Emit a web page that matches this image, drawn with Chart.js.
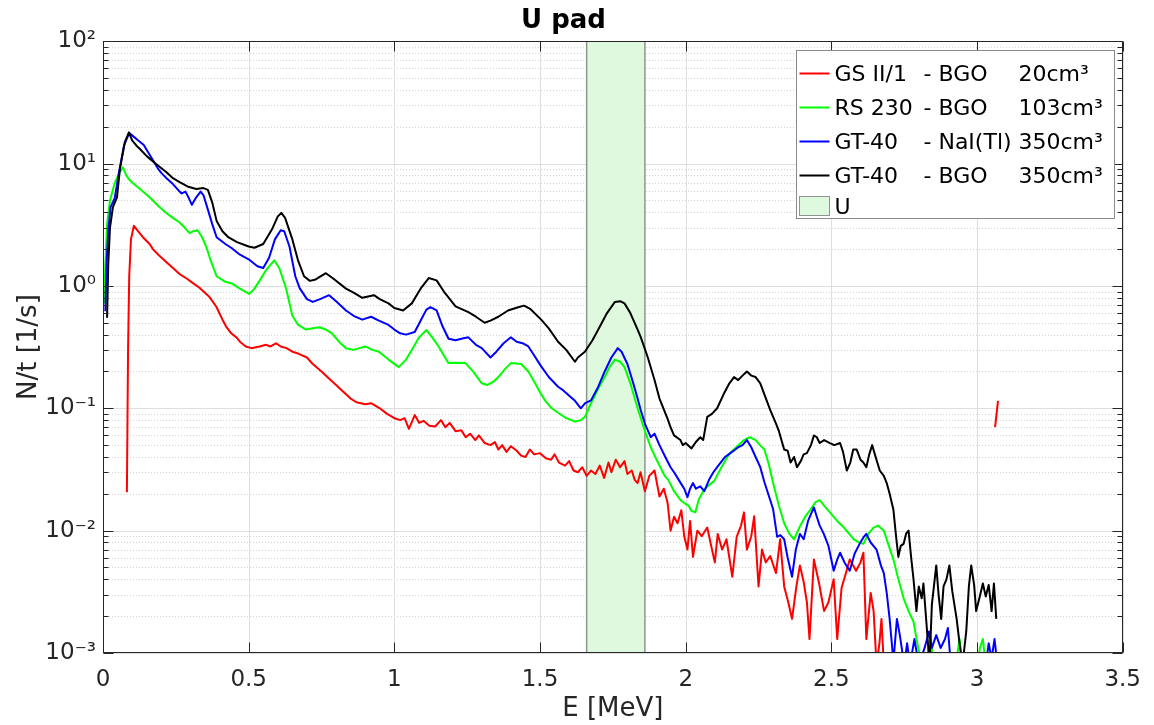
<!DOCTYPE html>
<html>
<head>
<meta charset="utf-8">
<title>U pad</title>
<script src="https://cdn.jsdelivr.net/npm/chart.js@4.4.1/dist/chart.umd.min.js"></script>
<style>
  html, body { margin: 0; padding: 0; background: #fff; }
  #wrap { width: 1154px; height: 725px; }
</style>
</head>
<body>
<div id="wrap"><canvas id="spectrum" width="1154" height="725"></canvas></div>
<script>
// axis ticks
const xTickVals = [0, 0.5, 1, 1.5, 2, 2.5, 3, 3.5];
const xTickLabels = ['0', '0.5', '1', '1.5', '2', '2.5', '3', '3.5'];
const yTickVals = [0.001, 0.01, 0.1, 1, 10, 100];
const yTickLabels = ['10⁻³', '10⁻²', '10⁻¹', '10⁰', '10¹', '10²'];

// U window (MeV)
const bandRange = [1.66, 1.86];

// legend text
const legendNames = ['GS II/1', 'RS 230', 'GT-40', 'GT-40', 'U'];
const legendCrystals = ['- BGO', '- BGO', '- NaI(Tl)', '- BGO', ''];
const legendVolumes = ['20cm³', '103cm³', '350cm³', '350cm³', ''];
const seriesColors = ['#ff0000', '#00ff00', '#0000ff', '#000000'];

// spectra: [E (MeV), N/t (1/s)]
const redPts = [[0.082,0.0206],[0.086,0.3],[0.09,1.2],[0.096,2.4],[0.106,3.1],[0.12,2.8],[0.137,2.5],[0.16,2.2],[0.171,2.0],[0.19,1.8],[0.218,1.56],[0.24,1.4],[0.263,1.25],[0.287,1.15],[0.31,1.05],[0.33,0.97],[0.35,0.88],[0.366,0.81],[0.39,0.67],[0.41,0.53],[0.424,0.46],[0.44,0.41],[0.458,0.38],[0.47,0.35],[0.49,0.32],[0.51,0.31],[0.537,0.32],[0.56,0.33],[0.575,0.32],[0.594,0.34],[0.61,0.32],[0.63,0.31],[0.65,0.29],[0.67,0.28],[0.7,0.26],[0.72,0.23],[0.75,0.2],[0.77,0.18],[0.8,0.155],[0.82,0.14],[0.85,0.12],[0.87,0.112],[0.9,0.108],[0.92,0.11],[0.95,0.1],[0.975,0.09],[1.0,0.083],[1.02,0.08],[1.035,0.083],[1.05,0.068],[1.07,0.088],[1.085,0.076],[1.1,0.079],[1.12,0.072],[1.14,0.071],[1.16,0.08],[1.175,0.07],[1.19,0.076],[1.21,0.065],[1.23,0.066],[1.245,0.058],[1.26,0.062],[1.278,0.055],[1.29,0.06],[1.31,0.052],[1.33,0.05],[1.345,0.053],[1.357,0.046],[1.37,0.05],[1.385,0.044],[1.4,0.049],[1.42,0.045],[1.435,0.041],[1.45,0.04],[1.465,0.046],[1.48,0.042],[1.5,0.043],[1.52,0.039],[1.538,0.038],[1.55,0.042],[1.565,0.036],[1.586,0.034],[1.6,0.037],[1.615,0.031],[1.63,0.03],[1.645,0.033],[1.66,0.028],[1.675,0.031],[1.69,0.029],[1.705,0.034],[1.72,0.027],[1.735,0.036],[1.745,0.03],[1.76,0.038],[1.775,0.033],[1.79,0.037],[1.8,0.029],[1.815,0.031],[1.825,0.026],[1.835,0.0245],[1.845,0.03],[1.86,0.021],[1.875,0.028],[1.893,0.031],[1.91,0.019],[1.925,0.022],[1.938,0.0168],[1.948,0.01],[1.96,0.013],[1.972,0.0115],[1.985,0.0147],[1.995,0.009],[2.006,0.007],[2.015,0.012],[2.025,0.0061],[2.04,0.01],[2.055,0.009],[2.074,0.0106],[2.085,0.008],[2.1,0.0055],[2.11,0.0094],[2.125,0.007],[2.14,0.0085],[2.16,0.0042],[2.175,0.0089],[2.19,0.011],[2.2,0.0141],[2.21,0.007],[2.225,0.009],[2.235,0.0131],[2.25,0.0035],[2.262,0.007],[2.275,0.0055],[2.29,0.0062],[2.31,0.0045],[2.324,0.0085],[2.338,0.0035],[2.352,0.0026],[2.365,0.0019],[2.38,0.0035],[2.392,0.0052],[2.405,0.0038],[2.416,0.0026],[2.425,0.0013],[2.44,0.0058],[2.458,0.0037],[2.475,0.0022],[2.49,0.0026],[2.508,0.004],[2.52,0.0013],[2.535,0.0034],[2.55,0.0045],[2.563,0.0058],[2.585,0.0047],[2.6,0.0055],[2.61,0.0066],[2.62,0.0013],[2.635,0.0031],[2.645,0.0022],[2.655,0.0008],[2.665,0.0012],[2.672,0.0019],[2.68,0.0008],[2.8,null],[3.062,0.07],[3.072,0.115]];

const greenPts = [[0.004,0.72],[0.008,1.5],[0.014,3.2],[0.024,5.0],[0.04,6.9],[0.055,8.3],[0.068,9.3],[0.08,8.0],[0.09,7.4],[0.103,6.9],[0.13,6.1],[0.16,5.3],[0.19,4.5],[0.218,3.93],[0.24,3.6],[0.263,3.3],[0.28,3.0],[0.297,2.7],[0.31,2.8],[0.325,2.85],[0.34,2.5],[0.355,2.07],[0.37,1.6],[0.39,1.2],[0.42,1.08],[0.445,1.04],[0.47,0.95],[0.502,0.86],[0.52,0.95],[0.537,1.1],[0.56,1.35],[0.588,1.62],[0.605,1.4],[0.628,0.96],[0.65,0.57],[0.67,0.48],[0.697,0.44],[0.72,0.45],[0.742,0.46],[0.765,0.44],[0.786,0.41],[0.81,0.35],[0.834,0.31],[0.86,0.3],[0.88,0.31],[0.9,0.32],[0.925,0.3],[0.947,0.29],[0.98,0.25],[1.015,0.217],[1.04,0.25],[1.06,0.3],[1.085,0.38],[1.11,0.436],[1.13,0.38],[1.152,0.32],[1.17,0.27],[1.186,0.234],[1.21,0.236],[1.244,0.234],[1.27,0.2],[1.3,0.16],[1.32,0.155],[1.34,0.165],[1.357,0.18],[1.38,0.21],[1.4,0.234],[1.435,0.23],[1.46,0.2],[1.483,0.16],[1.5,0.135],[1.517,0.116],[1.54,0.1],[1.562,0.092],[1.59,0.083],[1.62,0.078],[1.64,0.08],[1.654,0.085],[1.675,0.11],[1.7,0.145],[1.722,0.18],[1.74,0.22],[1.757,0.25],[1.775,0.24],[1.79,0.217],[1.81,0.16],[1.835,0.1],[1.86,0.065],[1.88,0.048],[1.9,0.038],[1.928,0.028],[1.94,0.026],[1.96,0.021],[1.982,0.0178],[1.995,0.0168],[2.01,0.016],[2.02,0.0145],[2.033,0.0141],[2.045,0.018],[2.06,0.021],[2.075,0.023],[2.098,0.0255],[2.12,0.032],[2.143,0.04],[2.16,0.045],[2.177,0.049],[2.2,0.055],[2.22,0.058],[2.24,0.055],[2.255,0.05],[2.27,0.046],[2.285,0.035],[2.3,0.0245],[2.32,0.016],[2.338,0.0115],[2.355,0.0095],[2.372,0.0085],[2.39,0.0106],[2.41,0.013],[2.427,0.0147],[2.445,0.017],[2.46,0.0178],[2.475,0.016],[2.495,0.0141],[2.52,0.012],[2.543,0.0106],[2.56,0.0095],[2.577,0.0085],[2.595,0.008],[2.61,0.0078],[2.628,0.0095],[2.645,0.0106],[2.66,0.011],[2.68,0.01],[2.695,0.0078],[2.713,0.0058],[2.73,0.004],[2.748,0.0028],[2.765,0.0022],[2.782,0.0018],[2.795,0.0012],[2.81,0.0008],[2.83,0.0009],[2.84,0.0014],[2.85,0.0008],[2.9,0.0008],[2.93,0.0009],[2.94,0.0013],[2.95,0.0008],[3.0,0.0008],[3.01,0.0011],[3.02,0.0013],[3.03,0.0008]];

const bluePts = [[0.008,0.62],[0.012,1.5],[0.018,2.8],[0.026,4.4],[0.04,5.2],[0.055,8.5],[0.072,14],[0.09,17.8],[0.1,17],[0.12,15.5],[0.14,14.2],[0.16,11.8],[0.17,10.8],[0.19,9],[0.2,8.4],[0.22,7.5],[0.24,6.8],[0.26,6.0],[0.27,5.7],[0.283,5.9],[0.295,5.2],[0.305,4.6],[0.32,5.3],[0.335,5.9],[0.345,5.5],[0.36,4.2],[0.375,3.2],[0.39,2.5],[0.42,2.2],[0.44,2.05],[0.47,1.8],[0.5,1.65],[0.53,1.45],[0.55,1.4],[0.57,1.7],[0.59,2.4],[0.61,2.85],[0.622,2.8],[0.64,2.1],[0.66,1.2],[0.675,0.96],[0.7,0.78],[0.72,0.74],[0.745,0.78],[0.776,0.84],[0.8,0.75],[0.834,0.63],[0.86,0.57],[0.89,0.53],[0.92,0.56],[0.947,0.52],[0.98,0.48],[1.0,0.44],[1.02,0.41],[1.04,0.4],[1.07,0.42],[1.09,0.52],[1.11,0.64],[1.124,0.67],[1.145,0.63],[1.165,0.47],[1.186,0.37],[1.21,0.36],[1.23,0.37],[1.254,0.38],[1.28,0.33],[1.3,0.31],[1.33,0.26],[1.35,0.29],[1.375,0.34],[1.4,0.38],[1.42,0.35],[1.44,0.34],[1.46,0.32],[1.48,0.27],[1.504,0.22],[1.53,0.18],[1.562,0.15],[1.58,0.14],[1.606,0.123],[1.62,0.115],[1.64,0.1],[1.655,0.11],[1.675,0.116],[1.7,0.15],[1.722,0.2],[1.745,0.26],[1.767,0.31],[1.78,0.29],[1.8,0.23],[1.82,0.16],[1.835,0.12],[1.846,0.096],[1.86,0.075],[1.88,0.058],[1.893,0.062],[1.91,0.05],[1.93,0.04],[1.948,0.033],[1.96,0.03],[1.972,0.027],[1.985,0.024],[1.995,0.022],[2.006,0.0188],[2.015,0.022],[2.025,0.0245],[2.035,0.022],[2.05,0.023],[2.064,0.021],[2.08,0.026],[2.095,0.03],[2.108,0.033],[2.12,0.036],[2.135,0.04],[2.153,0.043],[2.165,0.045],[2.18,0.048],[2.195,0.05],[2.21,0.055],[2.225,0.048],[2.24,0.04],[2.256,0.033],[2.27,0.025],[2.29,0.0178],[2.3,0.015],[2.314,0.0089],[2.325,0.0092],[2.338,0.0085],[2.35,0.006],[2.365,0.0042],[2.378,0.007],[2.392,0.0094],[2.405,0.0085],[2.42,0.012],[2.44,0.0155],[2.45,0.013],[2.46,0.011],[2.474,0.0094],[2.49,0.0075],[2.508,0.0047],[2.52,0.0058],[2.53,0.0066],[2.545,0.0055],[2.563,0.0047],[2.58,0.0065],[2.597,0.0078],[2.61,0.0088],[2.62,0.0094],[2.635,0.008],[2.655,0.007],[2.67,0.0052],[2.68,0.0045],[2.69,0.0031],[2.7,0.0019],[2.713,0.00085],[2.725,0.0019],[2.735,0.0014],[2.75,0.0008],[2.76,0.0012],[2.77,0.0008],[2.785,0.0013],[2.8,0.0008],[2.82,0.0011],[2.835,0.0015],[2.845,0.0011],[2.86,0.0014],[2.875,0.0011],[2.89,0.0013],[2.9,0.0016],[2.91,0.0008],[2.93,0.0008],[3.03,0.0008],[3.04,0.0012],[3.05,0.0009],[3.06,0.0013],[3.07,0.0008]];

const blackPts = [[0.014,0.55],[0.018,1.5],[0.024,3.0],[0.034,4.4],[0.048,5.3],[0.058,9.0],[0.075,15],[0.089,18],[0.1,15.5],[0.115,14],[0.126,13.2],[0.15,11.5],[0.18,10],[0.218,8.5],[0.24,7.6],[0.263,7.05],[0.29,6.5],[0.32,6.2],[0.345,6.3],[0.36,6.1],[0.375,4.8],[0.39,3.4],[0.41,2.8],[0.43,2.5],[0.46,2.28],[0.5,2.1],[0.52,2.05],[0.55,2.2],[0.58,2.9],[0.6,3.7],[0.612,3.95],[0.625,3.6],[0.65,2.4],[0.67,1.6],[0.69,1.2],[0.71,1.1],[0.73,1.13],[0.765,1.27],[0.79,1.15],[0.834,0.95],[0.86,0.88],[0.89,0.8],[0.93,0.84],[0.95,0.78],[0.98,0.72],[1.0,0.66],[1.03,0.63],[1.06,0.72],[1.09,0.95],[1.118,1.16],[1.145,1.11],[1.17,0.9],[1.21,0.68],[1.254,0.61],[1.28,0.56],[1.31,0.5],[1.33,0.52],[1.357,0.56],[1.39,0.63],[1.425,0.67],[1.445,0.69],[1.466,0.65],[1.504,0.53],[1.53,0.45],[1.562,0.35],[1.59,0.3],[1.62,0.24],[1.63,0.26],[1.654,0.29],[1.68,0.36],[1.7,0.44],[1.73,0.6],[1.757,0.74],[1.775,0.75],[1.79,0.72],[1.81,0.6],[1.835,0.44],[1.846,0.38],[1.87,0.26],[1.893,0.17],[1.91,0.12],[1.938,0.082],[1.948,0.07],[1.96,0.06],[1.982,0.055],[1.99,0.05],[2.0,0.052],[2.02,0.047],[2.035,0.053],[2.05,0.058],[2.06,0.055],[2.074,0.085],[2.09,0.09],[2.108,0.1],[2.13,0.13],[2.15,0.16],[2.166,0.18],[2.18,0.17],[2.2,0.19],[2.21,0.2],[2.225,0.185],[2.24,0.18],[2.256,0.16],[2.27,0.13],[2.29,0.097],[2.31,0.075],[2.32,0.065],[2.338,0.046],[2.35,0.045],[2.36,0.036],[2.372,0.04],[2.382,0.033],[2.395,0.037],[2.405,0.042],[2.416,0.043],[2.43,0.05],[2.44,0.06],[2.45,0.058],[2.46,0.052],[2.475,0.055],[2.495,0.052],[2.51,0.05],[2.53,0.052],[2.54,0.044],[2.553,0.031],[2.565,0.036],[2.575,0.046],[2.587,0.046],[2.6,0.038],[2.61,0.036],[2.62,0.033],[2.63,0.042],[2.64,0.05],[2.652,0.04],[2.666,0.031],[2.68,0.028],[2.69,0.0245],[2.7,0.02],[2.713,0.0148],[2.722,0.009],[2.73,0.0061],[2.738,0.0075],[2.748,0.0078],[2.757,0.0095],[2.765,0.01],[2.774,0.006],[2.782,0.004],[2.792,0.0022],[2.8,0.0035],[2.81,0.0028],[2.816,0.0037],[2.826,0.0018],[2.837,0.0008],[2.845,0.0025],[2.852,0.0035],[2.86,0.0052],[2.868,0.003],[2.877,0.0019],[2.885,0.0035],[2.895,0.004],[2.905,0.0052],[2.915,0.0032],[2.93,0.0019],[2.94,0.0012],[2.95,0.0008],[2.963,0.0015],[2.972,0.0035],[2.98,0.0052],[2.99,0.0036],[2.997,0.0022],[3.008,0.0028],[3.02,0.0037],[3.03,0.0029],[3.04,0.0036],[3.05,0.0022],[3.058,0.0037],[3.066,0.0019]];

const FONT = 'DejaVu Sans';
const AXIS_COLOR = '#262626';
const BAND_FILL = '#dff9df';

function toXY(pts) {
  return pts.map(p => ({x: p[0], y: p[1]}));
}

function hline(ctx, x0, x1, y) { ctx.beginPath(); ctx.moveTo(x0, y); ctx.lineTo(x1, y); ctx.stroke(); }
function vline(ctx, x, y0, y1) { ctx.beginPath(); ctx.moveTo(x, y0); ctx.lineTo(x, y1); ctx.stroke(); }

// grid, U window, axes box, inward ticks and the legend box, matlab style
const matlabLook = {
  id: 'matlabLook',
  beforeDatasetsDraw(chart) {
    const {ctx, chartArea: a, scales: {x, y}} = chart;
    ctx.save();
    ctx.lineWidth = 1;
    // minor y grid (dotted)
    ctx.strokeStyle = 'rgba(38,38,38,0.2)';
    ctx.setLineDash([1, 2]);
    for (let d = 0; d < yTickVals.length - 1; d++) {
      for (let m = 2; m <= 9; m++) {
        const py = Math.round(y.getPixelForValue(m * yTickVals[d])) + 0.5;
        hline(ctx, a.left, a.right, py);
      }
    }
    ctx.setLineDash([]);
    // major grid
    ctx.strokeStyle = '#dedede';
    xTickVals.forEach(v => vline(ctx, Math.round(x.getPixelForValue(v)) + 0.5, a.top, a.bottom));
    yTickVals.forEach(v => hline(ctx, a.left, a.right, Math.round(y.getPixelForValue(v)) + 0.5));
    // U window
    const b0 = x.getPixelForValue(bandRange[0]);
    const b1 = x.getPixelForValue(bandRange[1]);
    ctx.fillStyle = BAND_FILL;
    ctx.fillRect(b0, a.top, b1 - b0, a.bottom - a.top);
    ctx.strokeStyle = '#8c968c';
    ctx.lineWidth = 1.5;
    vline(ctx, b0, a.top, a.bottom);
    vline(ctx, b1, a.top, a.bottom);
    ctx.restore();
  },
  afterDatasetsDraw(chart) {
    const {ctx, chartArea: a, scales: {x, y}} = chart;
    ctx.save();
    ctx.strokeStyle = AXIS_COLOR;
    ctx.lineWidth = 1;
    const L = Math.round(a.left) + 0.5, R = Math.round(a.right) - 0.5;
    const T = Math.round(a.top) + 0.5, B = Math.round(a.bottom) - 0.5;
    ctx.strokeRect(L, T, R - L, B - T);
    // x ticks, inward on bottom and top
    xTickVals.forEach(v => {
      const px = Math.round(x.getPixelForValue(v)) + 0.5;
      vline(ctx, px, B, B - 10);
      vline(ctx, px, T, T + 10);
    });
    // y ticks
    for (let d = 0; d < yTickVals.length; d++) {
      const py = Math.round(y.getPixelForValue(yTickVals[d])) + 0.5;
      hline(ctx, L, L + 10, py);
      hline(ctx, R, R - 10, py);
      if (d === yTickVals.length - 1) break;
      for (let m = 2; m <= 9; m++) {
        const my = Math.round(y.getPixelForValue(m * yTickVals[d])) + 0.5;
        hline(ctx, L, L + 5, my);
        hline(ctx, R, R - 5, my);
      }
    }

    // legend
    const bx = Math.round(a.right) - 327 + 0.5, by = Math.round(a.top) + 9 + 0.5;
    const bw = 318, bh = 168;
    ctx.fillStyle = '#ffffff';
    ctx.fillRect(bx, by, bw, bh);
    ctx.strokeStyle = '#8a8a8a';
    ctx.strokeRect(bx, by, bw, bh);
    const rowY = [23, 57, 91, 125, 156];
    ctx.font = '22px "' + FONT + '"';
    ctx.textBaseline = 'middle';
    ctx.textAlign = 'left';
    for (let i = 0; i < legendNames.length; i++) {
      const ry = by + rowY[i];
      if (i < seriesColors.length) {
        ctx.strokeStyle = seriesColors[i];
        ctx.lineWidth = 2;
        hline(ctx, bx + 3, bx + 33, ry);
      } else {
        ctx.fillStyle = BAND_FILL;
        ctx.fillRect(bx + 3, ry - 10, 30, 19);
        ctx.strokeStyle = '#8c968c';
        ctx.lineWidth = 1;
        ctx.strokeRect(bx + 3, ry - 10, 30, 19);
      }
      ctx.fillStyle = '#000000';
      ctx.fillText(legendNames[i], bx + 38, ry + 2);
      if (legendCrystals[i]) ctx.fillText(legendCrystals[i], bx + 127, ry + 2);
      if (legendVolumes[i]) ctx.fillText(legendVolumes[i], bx + 222, ry + 2);
    }
    ctx.restore();
  }
};

const seriesPts = [redPts, greenPts, bluePts, blackPts];
const datasets = seriesPts.map((pts, i) => ({
  label: legendNames[i],
  data: toXY(pts),
  borderColor: seriesColors[i],
  backgroundColor: seriesColors[i],
  borderWidth: 2,
  pointRadius: 0,
  tension: 0,
  spanGaps: false,
  borderJoinStyle: 'round',
  order: seriesPts.length - i
}));

const ctx = document.getElementById('spectrum');
const myChart = new Chart(ctx, {
  type: 'line',
  data: { datasets: datasets },
  options: {
    responsive: false,
    animation: false,
    layout: { padding: { left: 0, right: 27, top: 0, bottom: 0 } },
    plugins: {
      legend: { display: false },
      tooltip: { enabled: false },
      title: {
        display: true,
        text: 'U pad',
        color: '#000000',
        font: { family: FONT, size: 26, weight: 'bold' },
        padding: { top: 6, bottom: 4 }
      }
    },
    scales: {
      x: {
        type: 'linear',
        min: 0,
        max: 3.5,
        afterFit: s => { s.height = 72; },
        afterBuildTicks: s => { s.ticks = xTickVals.map(v => ({ value: v })); },
        grid: { display: false, drawTicks: false },
        border: { display: false },
        ticks: {
          color: AXIS_COLOR,
          padding: 13,
          maxRotation: 0,
          autoSkip: false,
          font: { family: FONT, size: 23 },
          callback: (v, i) => xTickLabels[i]
        },
        title: {
          display: true,
          text: 'E [MeV]',
          color: AXIS_COLOR,
          font: { family: FONT, size: 26 },
          padding: { top: 0, bottom: 0 }
        }
      },
      y: {
        type: 'logarithmic',
        min: 0.001,
        max: 100,
        afterFit: s => { s.width = 103; },
        afterBuildTicks: s => { s.ticks = yTickVals.map(v => ({ value: v })); },
        grid: { display: false, drawTicks: false },
        border: { display: false },
        ticks: {
          color: AXIS_COLOR,
          padding: 7,
          autoSkip: false,
          font: { family: FONT, size: 23 },
          callback: (v) => {
            const k = yTickVals.findIndex(t => Math.abs(Math.log10(t) - Math.log10(v)) < 1e-6);
            return k >= 0 ? yTickLabels[k] : '';
          }
        },
        title: {
          display: true,
          text: 'N/t [1/s]',
          color: AXIS_COLOR,
          font: { family: FONT, size: 26 },
          padding: { top: 14, bottom: 0 }
        }
      }
    }
  },
  plugins: [matlabLook]
});
</script>
</body>
</html>
